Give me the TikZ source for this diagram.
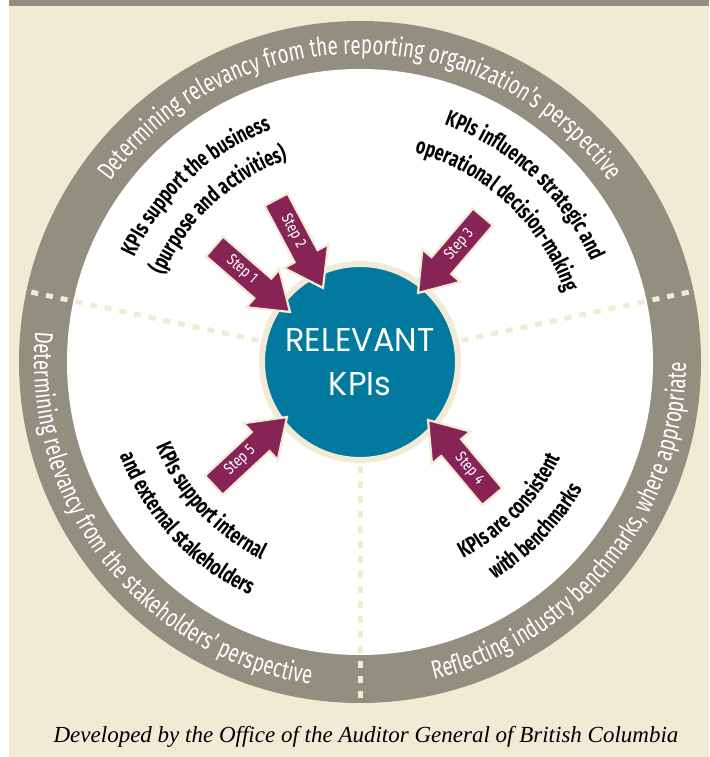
\documentclass[tikz,border=0pt]{standalone}
\usepackage{fontspec}
\setmainfont{Poppins}
\newfontfamily\ringfont[FakeStretch=0.72]{Fira Sans}
\newfontfamily\labfont[FakeStretch=0.72]{Fira Sans}
\newfontfamily\stepfont[FakeStretch=0.8]{Fira Sans}
\newfontfamily\kpifont[FakeStretch=0.97]{Poppins}
\newfontfamily\capfont{Liberation Serif}
\usetikzlibrary{decorations.text}
\definecolor{cream}{RGB}{241,234,212}
\definecolor{ringgray}{RGB}{146,143,129}
\definecolor{kpiteal}{RGB}{2,121,158}
\definecolor{plum}{RGB}{135,36,85}
\newcommand\kpiring{\ringfont\fontsize{26pt}{26pt}\selectfont\color{white}}
\newcommand\kpilab{\labfont\bfseries\fontsize{22.5pt}{22.5pt}\selectfont\color{black}}
\tikzset{
  divider/.style={cream, line width=5pt, dash pattern=on 7pt off 8pt},
  arrowshape/.style={fill=plum, draw=cream, line width=2.2pt, line join=miter},
  steptext/.style={text=white, font=\stepfont\fontsize{16pt}{16pt}\selectfont, inner sep=0pt},
  kpinode/.style={circle, fill=kpiteal, draw=cream, line width=6pt, minimum size=196pt, inner sep=0pt,
    text=white, align=center, font=\kpifont\fontsize{33pt}{44pt}\selectfont},
  caption/.style={font=\capfont\itshape\fontsize{23pt}{23pt}\selectfont, text=black}
}
\newcommand\kpiarrow[5]{%
  \begin{scope}[shift={#2}, rotate=#3]
    \filldraw[arrowshape] (0,0) -- (-36,25) -- (-36,13) -- (-100,13) -- (-100,-13) -- (-36,-13) -- (-36,-25) -- cycle;
    \node[steptext, rotate=#4] (#1) at (-64,0) {#5};
  \end{scope}}
\begin{document}
\begin{tikzpicture}[x=1pt,y=1pt]
\useasboundingbox (0,0) rectangle (709,757);
\fill[white] (0,0) rectangle (709,757);
\fill[cream] (9,0) rectangle (709,757);
\fill[ringgray] (9,751) rectangle (709,757);
\begin{scope}[shift={(360,395)}]
  \fill[ringgray] (0,0) circle[radius=341pt];
  \fill[white] (0,0) circle[radius=293pt];
  \foreach \a in {12,168,270} \draw[divider] (\a:104pt) -- (\a:341pt);
  % ring texts
  \path[decorate, decoration={text along path, text align=center,
    text={|\kpiring|Determining relevancy from the reporting organization’s perspective}}]
    (160:308pt) arc[start angle=160, end angle=20, radius=308pt];
  \path[decorate, decoration={text along path, text align=center,
    text={|\kpiring|Determining relevancy from the stakeholders’ perspective}}]
    (148:326pt) arc[start angle=148, end angle=288, radius=326pt];
  \path[decorate, decoration={text along path, text align=center,
    text={|\kpiring|Reflecting industry benchmarks, where appropriate}}]
    (251.5:326pt) arc[start angle=251.5, end angle=391.5, radius=326pt];
  % labels
  \path[decorate, decoration={text along path, text align=center,
    text={|\kpilab|KPIs support the business}}]
    (193:249pt) arc[start angle=193, end angle=73, radius=249pt];
  \path[decorate, decoration={text along path, text align=center,
    text={|\kpilab|(purpose and activities)}}]
    (193:215pt) arc[start angle=193, end angle=73, radius=215pt];
  \path[decorate, decoration={text along path, text align=center,
    text={|\kpilab|KPIs influence strategic and}}]
    (107:252pt) arc[start angle=107, end angle=-13, radius=252pt];
  \path[decorate, decoration={text along path, text align=center,
    text={|\kpilab|operational decision-making}}]
    (107:216pt) arc[start angle=107, end angle=-13, radius=216pt];
  \path[decorate, decoration={text along path, text align=center,
    text={|\kpilab|KPIs support internal}}]
    (163:221pt) arc[start angle=163, end angle=283, radius=221pt];
  \path[decorate, decoration={text along path, text align=center,
    text={|\kpilab|and external stakeholders}}]
    (163:258pt) arc[start angle=163, end angle=283, radius=258pt];
  \path[decorate, decoration={text along path, text align=center,
    text={|\kpilab|KPIs are consistent}}]
    (256:222pt) arc[start angle=256, end angle=376, radius=222pt];
  \path[decorate, decoration={text along path, text align=center,
    text={|\kpilab|with benchmarks}}]
    (256:256pt) arc[start angle=256, end angle=376, radius=256pt];
\end{scope}
\node[kpinode] (kpi) at (360,395) {RELEVANT\\KPIs};
\kpiarrow{s1}{(290,445)}{319}{-41}{Step 1}
\kpiarrow{s2}{(323,469)}{298}{-62}{Step 2}
\kpiarrow{s3}{(418,464)}{229.5}{49.5}{Step 3}
\kpiarrow{s4}{(428,337)}{130}{310}{Step 4}
\kpiarrow{s5}{(287,340)}{43}{43}{Step 5}
\node[caption] (cap) at (366,20) {Developed by the Office of the Auditor General of British Columbia};
\end{tikzpicture}
\end{document}
